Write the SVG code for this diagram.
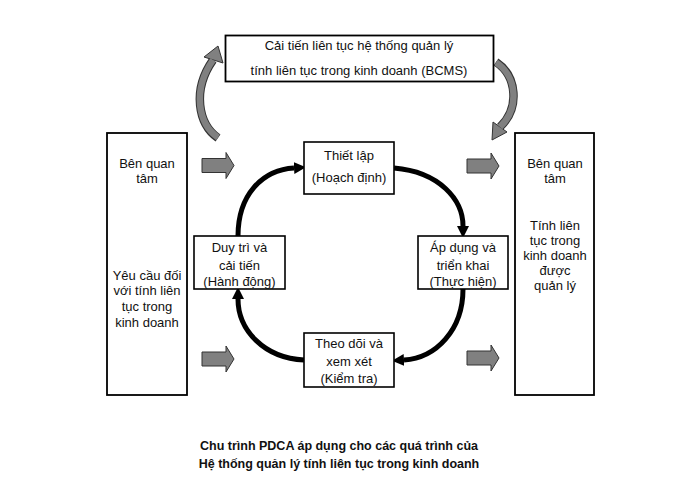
<svg xmlns="http://www.w3.org/2000/svg" width="680" height="504" viewBox="0 0 680 504">
<style>
text{font-family:"Liberation Sans",Arial,sans-serif;font-size:13px;fill:#111;text-anchor:middle}
.cap{font-weight:bold;font-size:12.5px}
.box{fill:#fff;stroke:#000;stroke-width:1.6}
.big{fill:#fff;stroke:#000;stroke-width:1.8}
.loop{fill:none;stroke:#000;stroke-width:5}
.garr{fill:#808080;stroke:#333;stroke-width:1}
.bandO{fill:none;stroke:#333;stroke-width:8.5}
.bandI{fill:none;stroke:#808080;stroke-width:6.5}
</style>
<defs>
<marker id="ah" markerUnits="userSpaceOnUse" markerWidth="12" markerHeight="12" viewBox="0 0 10 10" refX="0" refY="5" orient="auto">
<path d="M0,0 L10,5 L0,10 z" fill="#000"/>
</marker>
<path id="blk" d="M0,-7 H24 V-13 L32,0 L24,13 V7 H0 Z"/>
</defs>
<rect width="680" height="504" fill="#fff"/>

<g id="connectors">
<path class="loop" d="M394,168 C440,172 463,200 463,226" marker-end="url(#ah)"/>
<path class="loop" d="M463,289 C463,330 436,358 404,360" marker-end="url(#ah)"/>
<path class="loop" d="M304,360 C264,358 238,330 238,299" marker-end="url(#ah)"/>
<path class="loop" d="M238,236 C238,195 262,170 294,168" marker-end="url(#ah)"/>

<use href="#blk" class="garr" x="202" y="165.5"/>
<use href="#blk" class="garr" x="202" y="359"/>
<use href="#blk" class="garr" x="467" y="166"/>
<use href="#blk" class="garr" x="467" y="358"/>

<g id="curve-left">
<path class="bandO" d="M218,138 C198,124 192,90 213,60"/>
<polygon class="garr" points="218,46 204,57 223,63"/>
<path class="bandI" d="M218,137.5 C198,124 192,90 213,60"/>
</g>
<g id="curve-right">
<path class="bandO" d="M496,62 C517,76 520,108 500,127"/>
<polygon class="garr" points="492,140 493,122 507,132"/>
<path class="bandI" d="M496,62.5 C517,76 520,108 500,127"/>
</g>
</g>

<g id="top">
<rect class="big" x="225.5" y="35.5" width="268" height="46"/>
<text x="359" y="50">Cải tiến liên tục hệ thống quản lý</text>
<text x="359" y="75">tính liên tục trong kinh doanh (BCMS)</text>
</g>

<g id="left">
<rect class="big" x="107" y="133" width="80" height="262"/>
<text x="147" y="167.5">Bên quan</text>
<text x="147" y="182.5">tâm</text>
<text x="147" y="279.5">Yêu cầu đối</text>
<text x="147" y="295">với tính liên</text>
<text x="147" y="311">tục trong</text>
<text x="147" y="326.5">kinh doanh</text>
</g>

<g id="right">
<rect class="big" x="515" y="133" width="79" height="262"/>
<text x="555" y="167.5">Bên quan</text>
<text x="555" y="182.5">tâm</text>
<text x="555" y="229.5">Tính liên</text>
<text x="555" y="244.5">tục trong</text>
<text x="555" y="259.5">kinh doanh</text>
<text x="555" y="274.5">được</text>
<text x="555" y="289.5">quản lý</text>
</g>

<g id="plan">
<rect class="box" x="304" y="142" width="90" height="52"/>
<text x="349" y="159.5">Thiết lập</text>
<text x="349" y="181.5">(Hoạch định)</text>
</g>

<g id="do">
<rect class="box" x="418" y="236" width="90" height="53"/>
<text x="463" y="251.5">Áp dụng và</text>
<text x="463" y="269.5">triển khai</text>
<text x="463" y="286">(Thực hiện)</text>
</g>

<g id="check">
<rect class="box" x="304" y="333" width="90" height="54"/>
<text x="349" y="347.5">Theo dõi và</text>
<text x="349" y="365.5">xem xét</text>
<text x="349" y="382.5">(Kiểm tra)</text>
</g>

<g id="act">
<rect class="box" x="194" y="236" width="91" height="53"/>
<text x="239.5" y="251.5">Duy trì và</text>
<text x="239.5" y="269.5">cải tiến</text>
<text x="239.5" y="286">(Hành động)</text>
</g>

<g id="caption">
<text class="cap" x="339" y="449.5">Chu trình PDCA áp dụng cho các quá trình của</text>
<text class="cap" x="339" y="467.5">Hệ thống quản lý tính liên tục trong kinh doanh</text>
</g>
</svg>
